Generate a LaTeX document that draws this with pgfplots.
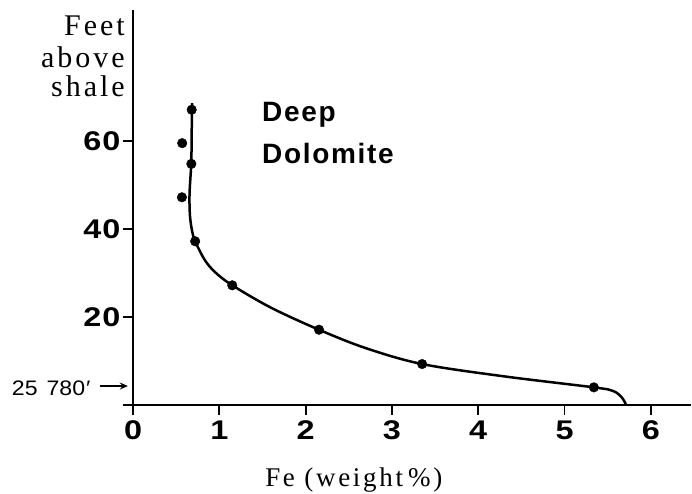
\documentclass[border=0pt]{standalone}
\usepackage{fontspec}
\setmainfont{Liberation Serif}
\setsansfont{Liberation Sans}
\newfontfamily\serifsp[LetterSpace=10]{Liberation Serif}
\newfontfamily\sanssp[LetterSpace=6]{Liberation Sans}
\newfontfamily\sanswide[FakeStretch=1.2, LetterSpace=4]{Liberation Sans}
\newfontfamily\sansarrow[FakeStretch=1.1]{Liberation Sans}
\usepackage{pgfplots}
\pgfplotsset{compat=1.18}
\usetikzlibrary{arrows.meta}
\begin{document}
\begin{tikzpicture}
\useasboundingbox (-123pt,-81pt) rectangle (569pt,412pt);
\begin{axis}[
 at={(0pt,0pt)}, anchor=south west,
 x=86.3pt, y=4.4pt,
 xmin=-0.116, xmax=6.47, ymin=-1.6, ymax=89.8,
 axis lines=middle,
 axis line style={-, line width=2pt},
 clip=false,
 xtick={0,1,2,3,4,5,6}, ytick={20,40,60},
 tick align=outside,
 major tick length=10pt,
 tick style={line width=1.8pt, black},
 hide obscured x ticks=false,
 /pgf/number format/assume math mode=true,
 tick label style={font=\fontsize{27}{30}\selectfont\sanswide\bfseries},
 xticklabel style={yshift=-2pt},
 yticklabel style={xshift=1pt},
]
\addplot[line width=2.5pt, smooth, tension=0.55] coordinates {
 (0.685,68.6) (0.68,62) (0.675,55) (0.655,48) (0.66,43) (0.685,39.5) (0.72,37.2)
 (0.83,33) (0.95,30.2) (1.15,27.2) (1.6,22.1) (2.155,17.1) (2.7,12.9)
 (3.35,9.3) (4.3,6.5) (5.34,4.0) (5.56,3.2) (5.66,1.8) (5.71,0.2)
};
\addplot[only marks, mark=*, mark size=4.8pt, black] coordinates {
 (0.68,67.1) (0.57,59.5) (0.676,54.8) (0.567,47.2) (0.72,37.2)
 (1.15,27.2) (2.155,17.1) (3.35,9.3) (5.34,4.0)
};
\node[anchor=base east, inner sep=0pt, font=\fontsize{30}{32}\selectfont\serifsp] at (axis cs:-0.093,83.9) {Feet};
\node[anchor=base east, inner sep=0pt, font=\fontsize{30}{32}\selectfont\serifsp] at (axis cs:-0.093,76.8) {above};
\node[anchor=base east, inner sep=0pt, font=\fontsize{30}{32}\selectfont\serifsp] at (axis cs:-0.093,70.0) {shale};
\node[anchor=base west, inner sep=0pt, font=\fontsize{28}{30}\selectfont\sanssp\bfseries] at (axis cs:1.495,64.4) {Deep};
\node[anchor=base west, inner sep=0pt, font=\fontsize{28}{30}\selectfont\sanssp\bfseries] at (axis cs:1.495,54.9) {Dolomite};
\node[anchor=base west, inner sep=0pt, font=\fontsize{27}{30}\selectfont\serifsp] at (axis cs:1.53,-18.5) {Fe (weight\hspace{5pt}\%)};
\node[anchor=base west, inner sep=0pt, font=\fontsize{21}{22}\selectfont\sansarrow] at (axis cs:-1.405,2.2) {25\hspace{9pt}780\kern1pt′};
\draw[line width=1.5pt, -{Stealth[length=8pt,width=7pt]}] (axis cs:-0.38,4.3) -- (axis cs:-0.06,4.3);
\end{axis}
\end{tikzpicture}
\end{document}
